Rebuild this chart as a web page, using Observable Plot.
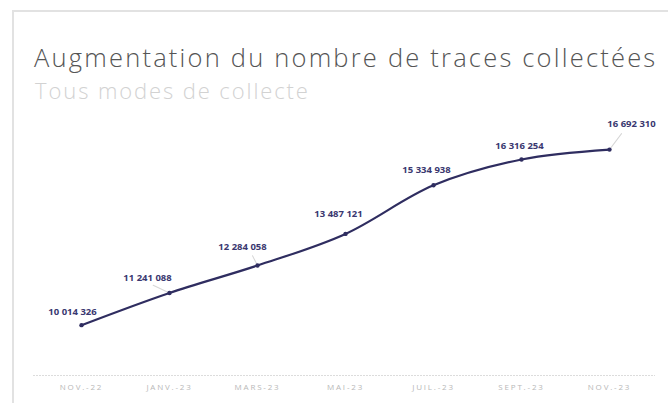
<!DOCTYPE html>
<html>
<head>
<meta charset="utf-8">
<script src="https://cdn.jsdelivr.net/npm/d3@7"></script>
<script src="https://cdn.jsdelivr.net/npm/@observablehq/plot@0.6"></script>
<style>
  html, body { margin: 0; padding: 0; background: #fff; width: 668px; height: 403px; overflow: hidden; }
  #frame { position: absolute; left: 12px; top: 10px; width: 720px; height: 460px; border: 2px solid #e2e2e2; }
  #title { position: absolute; left: 34px; top: 40px; font-family: "Open Sans", sans-serif; font-weight: 300; font-size: 25.5px; color: #555; letter-spacing: 2.2px; white-space: nowrap; }
  #subtitle { position: absolute; left: 35px; top: 75px; font-family: "Open Sans", sans-serif; font-weight: 300; font-size: 22px; color: #d2d2d2; letter-spacing: 1.9px; white-space: nowrap; }
  #chart { position: absolute; left: 0; top: 0; }
  #chart svg [aria-label="x-axis tick label"] { color: #b8b8b8; letter-spacing: 1.8px; }
</style>
</head>
<body>
<div id="frame"></div>
<div id="title">Augmentation du nombre de traces collectées</div>
<div id="subtitle">Tous modes de collecte</div>
<div id="chart"></div>
<script>
const months = ["NOV.-22", "JANV.-23", "MARS-23", "MAI-23", "JUIL.-23", "SEPT.-23", "NOV.-23"];
const values = [10014326, 11241088, 12284058, 13487121, 15334938, 16316254, 16692310];
const labels = ["10 014 326", "11 241 088", "12 284 058", "13 487 121", "15 334 938", "16 316 254", "16 692 310"];

const data = months.map((m, i) => ({month: m, value: values[i], label: labels[i]}));

// label placement offsets (px) relative to each point
const labelDx = [-9, -22, -15, -7, -7, -2, 22];
const labelDy = [-13, -15, -19, -20, -15, -14, -26];
// faint leader lines: [index, rotate (deg), length (px)]
const leaders = [[1, -65, 18], [2, -27, 11], [6, 37, 20]];

const navy = "#2f2d60";
const leaderShape = {draw(ctx, l) { ctx.moveTo(0, 0); ctx.lineTo(0, -l); }};

const chart = Plot.plot({
  width: 668,
  height: 403,
  marginTop: 120,
  marginBottom: 28,
  marginLeft: 33,
  marginRight: 13,
  style: {background: "transparent", fontFamily: "Open Sans, sans-serif"},
  x: {type: "point", domain: months, padding: 0, insetLeft: 47, insetRight: 45, tickSize: 0, tickPadding: 9, label: null},
  y: {domain: [8.1e6, 17.8e6], axis: null},
  marks: [
    Plot.ruleY([8.1e6], {stroke: "#dcdcdc", strokeWidth: 1.2, strokeDasharray: "2,1"}),
    ...leaders.map(([i, rot, len]) => Plot.vector([data[i]], {x: "month", y: "value", rotate: rot, length: len, anchor: "start", shape: leaderShape, stroke: "#d6d6d6", strokeWidth: 1})),
    Plot.line(data, {x: "month", y: "value", curve: "catmull-rom", stroke: navy, strokeWidth: 2.2}),
    Plot.dot(data, {x: "month", y: "value", r: 2.2, fill: navy}),
    ...data.map((d, i) => Plot.text([d], {x: "month", y: "value", text: "label", dx: labelDx[i], dy: labelDy[i], fill: "#3a3870", fontSize: 9.5, fontWeight: 700, letterSpacing: 0.4}))
  ]
});
chart.style.fontSize = "8px";
document.getElementById("chart").append(chart);
</script>
</body>
</html>
